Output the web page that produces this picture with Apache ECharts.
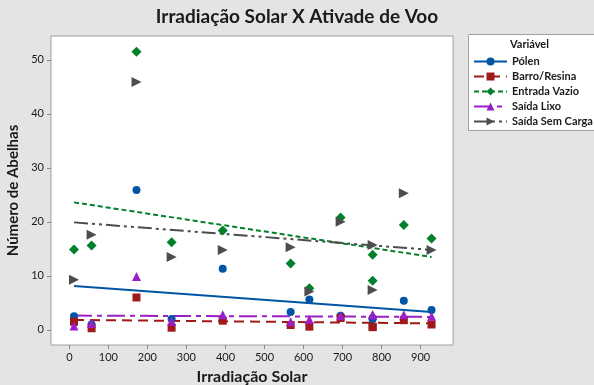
<!DOCTYPE html>
<html>
<head>
<meta charset="utf-8">
<script src="https://cdn.jsdelivr.net/npm/echarts@6/dist/echarts.min.js"></script>
<style>
  html, body { margin: 0; padding: 0; background: #e4e4e4; }
  #chart { width: 594px; height: 385px; }
</style>
</head>
<body>
<div id="chart"></div>
<script>
// Solar irradiation readings (x) shared by every bee-activity variable
const irradiacao = [12, 57, 172, 262, 393, 567, 615, 695, 777, 777, 857, 928];

// Bee counts per variable
const polen        = [2.5, 1.0, 25.9, 2.0, 11.3, 3.3, 5.6, 2.6, 2.0, 2.2, 5.4, 3.7];
const barroResina  = [1.5, 0.3, 6.0, 0.4, 1.7, 0.9, 0.6, 2.2, 0.5, 0.6, 1.8, 1.0];
const entradaVazio = [14.9, 15.6, 51.5, 16.2, 18.4, 12.3, 7.7, 20.8, 13.9, 9.1, 19.4, 16.9];
const saidaLixo    = [0.7, 1.2, 9.9, 1.6, 2.8, 1.5, 1.9, 2.6, 2.8, 2.8, 2.8, 2.5];
const saidaSemCarga= [9.3, 17.6, 45.9, 13.5, 14.8, 15.3, 7.1, 20.0, 15.7, 7.4, 25.3, 14.8];

// Fitted regression line values at the first and last irradiation reading
const fitX      = [12, 928];
const fitPolen  = [8.1, 3.3];
const fitBarro  = [1.85, 1.2];
const fitEntrada= [23.6, 13.5];
const fitLixo   = [2.65, 2.4];
const fitSemCarga = [19.9, 14.8];

const seriesNames = ['Pólen', 'Barro/Resina', 'Entrada Vazio', 'Saída Lixo', 'Saída Sem Carga'];
const xTicks = [0, 100, 200, 300, 400, 500, 600, 700, 800, 900];
const yTicks = [0, 10, 20, 30, 40, 50];

const FONT = 'Lato, "Liberation Sans", sans-serif';

const styles = [
  { color: '#0055a5', symbol: 'circle',  size: 8, dash: 'solid' },
  { color: '#9e1a1a', symbol: 'rect',    size: 8, dash: [10, 6] },
  { color: '#00802b', symbol: 'diamond', size: 10, dash: [5, 3] },
  { color: '#9a1fc6', symbol: 'triangle',size: 9, dash: [18, 5, 5, 5] },
  { color: '#4d4d4d', symbol: 'path://M0,0 L10,5 L0,10 Z', size: 10, dash: [14, 4, 3, 4, 3, 4] }
];
const values = [polen, barroResina, entradaVazio, saidaLixo, saidaSemCarga];
const fits = [fitPolen, fitBarro, fitEntrada, fitLixo, fitSemCarga];

const series = [];
seriesNames.forEach((name, i) => {
  const s = styles[i];
  series.push({
    name, type: 'line',
    data: fitX.map((x, j) => [x, fits[i][j]]),
    symbol: s.symbol, symbolSize: s.size, showSymbol: false,
    lineStyle: { color: s.color, width: 2, type: s.dash },
    itemStyle: { color: s.color },
    silent: true, z: 2, animation: false
  });
});
seriesNames.forEach((name, i) => {
  const s = styles[i];
  series.push({
    name, type: 'scatter',
    data: irradiacao.map((x, j) => [x, values[i][j]]),
    symbol: s.symbol, symbolSize: s.size,
    itemStyle: { color: s.color, opacity: 1 },
    z: 3, animation: false
  });
});

const chart = echarts.init(document.getElementById('chart'), null, { renderer: 'canvas' });
chart.setOption({
  backgroundColor: '#e4e4e4',
  animation: false,
  textStyle: { fontFamily: FONT },
  title: {
    text: 'Irradiação Solar X Ativade de Voo',
    left: 'center', top: 2,
    textStyle: { fontFamily: FONT, fontSize: 19, fontWeight: 'bold', color: '#1a1a1a' }
  },
  grid: {
    left: 51, top: 36, width: 402, height: 309,
    outerBoundsMode: 'none', containLabel: false,
    show: true, backgroundColor: '#ffffff', borderColor: '#a0a0a0', borderWidth: 1
  },
  xAxis: {
    type: 'value', min: -47, max: 983,
    name: 'Irradiação Solar', nameLocation: 'middle', nameGap: 24,
    nameTextStyle: { fontFamily: FONT, fontSize: 16, fontWeight: 'bold', color: '#1a1a1a' },
    axisLine: { show: false, onZero: false },
    splitLine: { show: false },
    axisTick: { show: true, length: 4, lineStyle: { color: '#8a8a8a' }, customValues: xTicks },
    axisLabel: { customValues: xTicks, margin: 7, fontSize: 11, color: '#1a1a1a', fontFamily: FONT }
  },
  yAxis: {
    type: 'value', min: -2.8, max: 54.4,
    name: 'Número de Abelhas', nameLocation: 'middle', nameGap: 24, nameRotate: 90,
    nameTextStyle: { fontFamily: FONT, fontSize: 15, fontWeight: 'bold', color: '#1a1a1a' },
    axisLine: { show: false, onZero: false },
    splitLine: { show: false },
    axisTick: { show: true, length: 4, lineStyle: { color: '#8a8a8a' }, customValues: yTicks },
    axisLabel: { customValues: yTicks, margin: 7, fontSize: 11, color: '#1a1a1a', fontFamily: FONT }
  },
  legend: {
    data: seriesNames,
    orient: 'vertical', left: 473, top: 55, padding: 0,
    itemWidth: 33, itemHeight: 10, itemGap: 2,
    selectedMode: false,
    textStyle: { fontFamily: FONT, fontSize: 11, fontWeight: 'bold', color: '#1a1a1a', lineHeight: 13 }
  },
  graphic: [
    {
      type: 'rect', left: 468, top: 34, z: 0,
      shape: { width: 126, height: 96 },
      style: { fill: '#ffffff', stroke: '#a0a0a0', lineWidth: 1 }
    },
    {
      type: 'text', left: 510, top: 39, z: 1,
      style: { text: 'Variável', font: 'bold 11px ' + FONT, fill: '#1a1a1a' }
    }
  ],
  series
});
</script>
</body>
</html>
